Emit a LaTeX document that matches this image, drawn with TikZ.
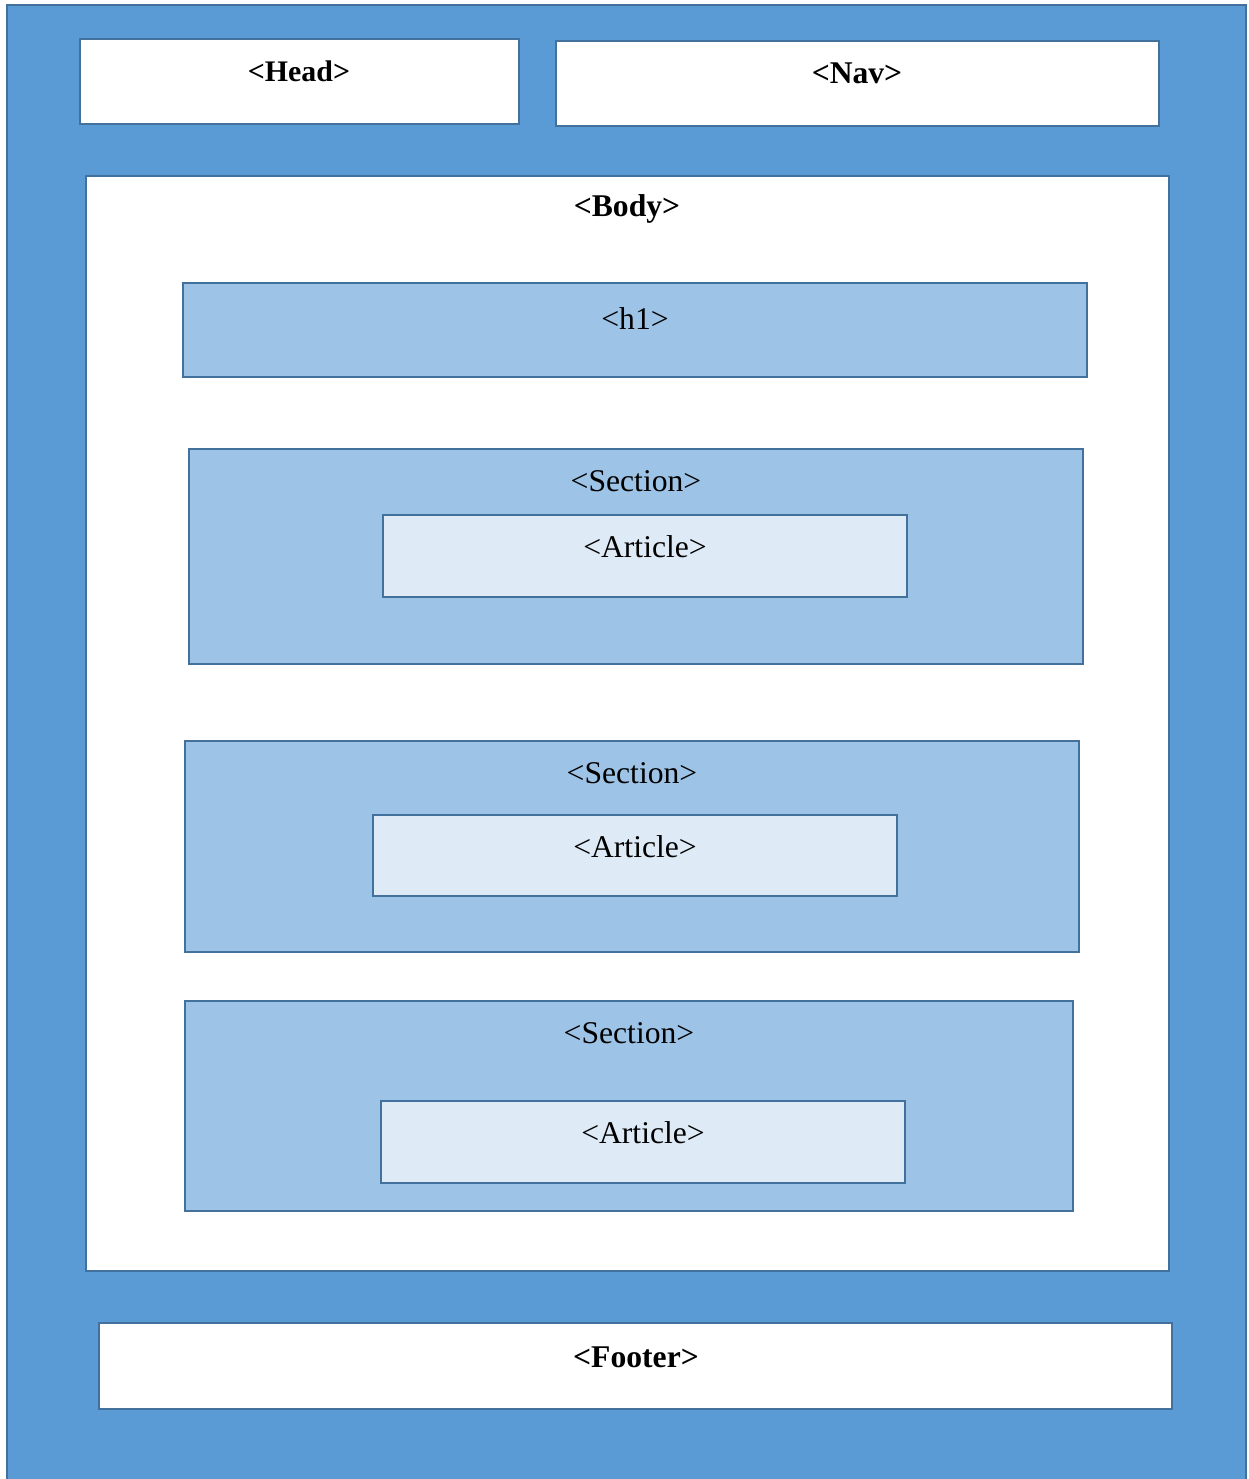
\documentclass[tikz,border=0pt]{standalone}
\usepackage{fontspec}
\setmainfont{Liberation Serif}
\usetikzlibrary{fit}
\definecolor{pageblue}{HTML}{5B9BD5}
\definecolor{edgeblue}{HTML}{41719C}
\definecolor{secblue}{HTML}{9DC3E6}
\definecolor{artblue}{HTML}{DEEBF7}

\begin{document}
\begin{tikzpicture}[x=0.02cm, y=-0.02cm,
  box/.style={draw=edgeblue, line width=1.4pt, inner sep=0pt},
  white box/.style={box, fill=white},
  section box/.style={box, fill=secblue},
  article box/.style={box, fill=artblue},
  tag/.style={anchor=base, inner sep=0pt, font=\fontsize{18}{20}\selectfont},
  bold tag/.style={tag, font=\fontsize{18}{20}\selectfont\bfseries}]
\useasboundingbox (0,0) rectangle (1248,1479);
\clip (0,0) rectangle (1248,1479);
% page background
\node[box, fill=pageblue, fit={(7,5) (1246,1495)}] (page) {};
% head and nav
\node[white box, fit={(80,39) (519,124)}] (head) {};
\node[bold tag, font=\fontsize{17}{19}\selectfont\bfseries] (head-t) at (299,82) {<Head>};
\node[white box, fit={(556,41) (1159,126)}] (nav) {};
\node[bold tag] (nav-t) at (857,84) {<Nav>};
% body
\node[white box, fit={(86,176) (1169,1271)}] (body) {};
\node[bold tag] (body-t) at (627,217) {<Body>};
\node[section box, fit={(183,283) (1087,377)}] (h1) {};
\node[tag] (h1-t) at (635,330) {<h1>};
% sections
\node[section box, fit={(189,449) (1083,664)}] (sec1) {};
\node[tag] (sec1-t) at (636,491) {<Section>};
\node[article box, fit={(383,515) (907,597)}] (art1) {};
\node[tag] (art1-t) at (645,557) {<Article>};
\node[section box, fit={(185,741) (1079,952)}] (sec2) {};
\node[tag] (sec2-t) at (632,783) {<Section>};
\node[article box, fit={(373,815) (897,896)}] (art2) {};
\node[tag] (art2-t) at (635,857) {<Article>};
\node[section box, fit={(185,1001) (1073,1211)}] (sec3) {};
\node[tag] (sec3-t) at (629,1043) {<Section>};
\node[article box, fit={(381,1101) (905,1183)}] (art3) {};
\node[tag] (art3-t) at (643,1143) {<Article>};
% footer
\node[white box, fit={(99,1323) (1172,1409)}] (footer) {};
\node[bold tag] (footer-t) at (636,1367) {<Footer>};
\end{tikzpicture}
\end{document}
